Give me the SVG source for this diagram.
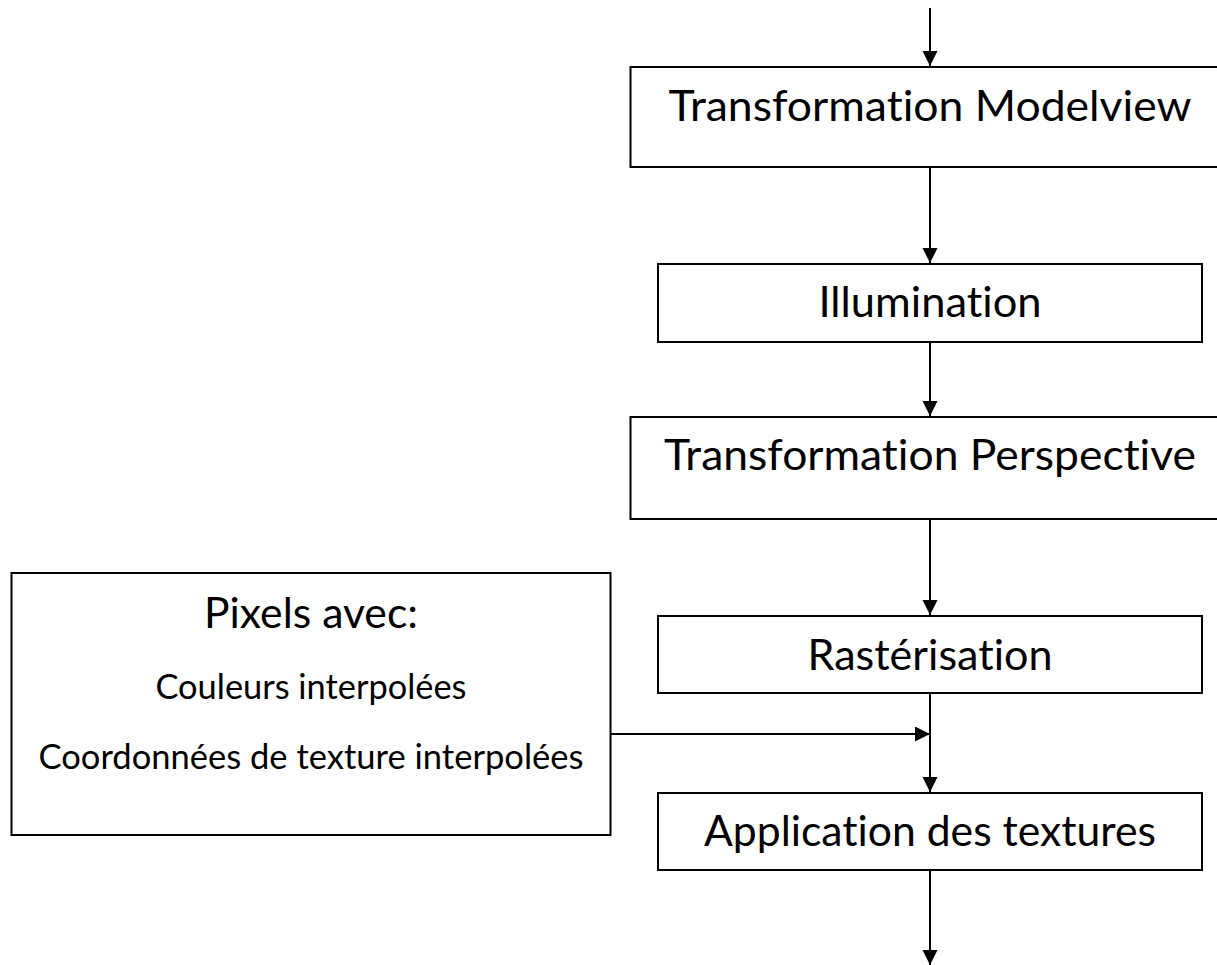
<svg xmlns="http://www.w3.org/2000/svg" width="1217" height="965" viewBox="0 0 1217 965">
  <style>
    .box { fill: #ffffff; stroke: #000000; stroke-width: 2; }
    .wire { fill: none; stroke: #000000; stroke-width: 2; }
    .big { font-family: Lato, "Open Sans", "Liberation Sans", sans-serif; font-size: 43px; fill: #000000; text-anchor: middle; font-variant-ligatures: none; }
    .small { font-family: Lato, "Open Sans", "Liberation Sans", sans-serif; font-size: 34.5px; fill: #000000; text-anchor: middle; font-variant-ligatures: none; }
  </style>
  <defs>
    <marker id="arrow" markerUnits="userSpaceOnUse" markerWidth="16" markerHeight="16" refX="15" refY="7.5" orient="auto">
      <path d="M0,0 L15,7.5 L0,15 Z" fill="#000000"/>
    </marker>
  </defs>
  <rect width="1217" height="965" fill="#ffffff"/>

  <!-- pipeline stages -->
  <g id="modelview">
    <rect class="box" x="630.5" y="67" width="600" height="100"/>
    <text class="big" x="930" y="121" textLength="523" lengthAdjust="spacingAndGlyphs">Transformation Modelview</text>
  </g>
  <g id="illumination">
    <rect class="box" x="658" y="264" width="544" height="78"/>
    <text class="big" x="930" y="317" textLength="223" lengthAdjust="spacingAndGlyphs">Illumination</text>
  </g>
  <g id="perspective">
    <rect class="box" x="630.5" y="417" width="600" height="102"/>
    <text class="big" x="930" y="470" textLength="532" lengthAdjust="spacingAndGlyphs">Transformation Perspective</text>
  </g>
  <g id="rasterisation">
    <rect class="box" x="658" y="616" width="544" height="77"/>
    <text class="big" x="930" y="670" textLength="245" lengthAdjust="spacingAndGlyphs">Rastérisation</text>
  </g>
  <g id="textures">
    <rect class="box" x="658" y="793" width="544" height="77"/>
    <text class="big" x="930" y="846" textLength="452" lengthAdjust="spacingAndGlyphs">Application des textures</text>
  </g>

  <!-- fragment data -->
  <g id="pixels">
    <rect class="box" x="11.5" y="573" width="599" height="262"/>
    <text class="big" x="311" y="628" textLength="214" lengthAdjust="spacingAndGlyphs">Pixels avec:</text>
    <text class="small" x="311" y="699" textLength="311" lengthAdjust="spacingAndGlyphs">Couleurs interpolées</text>
    <text class="small" x="311" y="769" textLength="545" lengthAdjust="spacingAndGlyphs">Coordonnées de texture interpolées</text>
  </g>

  <g id="connectors">
    <path class="wire" d="M930,8 L930,66" marker-end="url(#arrow)"/>
    <path class="wire" d="M930,167 L930,263" marker-end="url(#arrow)"/>
    <path class="wire" d="M930,342 L930,416" marker-end="url(#arrow)"/>
    <path class="wire" d="M930,519 L930,615" marker-end="url(#arrow)"/>
    <path class="wire" d="M930,693 L930,792" marker-end="url(#arrow)"/>
    <path class="wire" d="M930,870 L930,965" marker-end="url(#arrow)"/>
    <path class="wire" d="M611,734 L930,734" marker-end="url(#arrow)"/>
  </g>
</svg>
